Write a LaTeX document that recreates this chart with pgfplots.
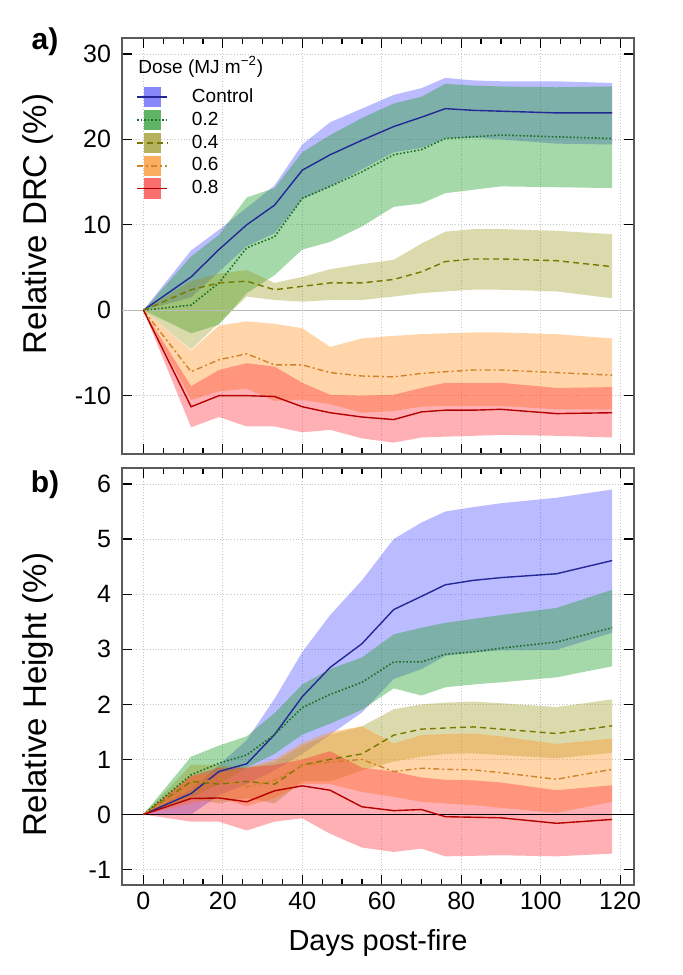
\documentclass[border=0pt]{standalone}
\usepackage{fontspec}
\setmainfont{Liberation Sans}
\usepackage{pgfplots}
\usepackage{pgfplotstable}
\pgfplotsset{compat=1.18}
\usepgfplotslibrary{fillbetween}

\definecolor{axgray}{RGB}{90,90,90}
\definecolor{cband}{RGB}{60,60,255}
\definecolor{gband}{RGB}{30,160,40}
\definecolor{oband}{RGB}{150,150,20}
\definecolor{yband}{RGB}{255,150,40}
\definecolor{rband}{RGB}{255,30,40}
\definecolor{cline}{RGB}{35,40,150}
\definecolor{gline}{RGB}{30,110,40}
\definecolor{oline}{RGB}{120,120,0}
\definecolor{yline}{RGB}{210,130,40}
\definecolor{rline}{RGB}{180,0,0}
\definecolor{cleg}{RGB}{135,135,250}
\definecolor{gleg}{RGB}{95,180,100}
\definecolor{oleg}{RGB}{180,178,95}
\definecolor{yleg}{RGB}{250,172,95}
\definecolor{rleg}{RGB}{250,110,110}

\pgfplotstableread{
x m lo hi
0 0 0 0
12 3.9 1.5 7.0
19 7.1 4.5 9.4
26 10.0 7.5 12.0
33 12.3 9.0 14.6
40 16.4 13.0 19.4
47 18.2 14.5 22.0
55 19.9 16.5 23.6
63 21.5 18.5 25.2
70 22.6 19.0 26.0
76 23.6 20.1 27.2
83 23.4 20.2 26.9
90 23.3 20.0 26.8
104 23.1 19.5 26.8
118 23.1 19.4 26.6
}\cA
\pgfplotstableread{
x m lo hi
0 0 0 0
12 0.6 -2.7 6.3
19 3.2 -1.7 8.8
26 7.3 2.0 13.2
33 8.6 4.1 14.3
40 13.1 7.1 18.5
47 14.5 8.0 20.5
55 16.2 9.8 22.5
63 18.2 12.1 24.2
70 18.8 12.5 25.0
76 20.1 13.7 26.5
83 20.3 14.1 26.3
90 20.5 14.5 26.2
104 20.3 14.4 26.1
118 20.1 14.3 26.2
}\gA
\pgfplotstableread{
x m lo hi
0 0 0 0
12 2.4 -4.6 3.4
19 3.2 -1.5 4.3
26 3.4 1.6 4.7
33 2.4 1.2 3.2
40 2.8 1.0 3.9
47 3.2 1.2 4.8
55 3.2 1.2 5.4
63 3.6 1.6 5.9
70 4.5 2.0 7.8
76 5.7 2.2 9.2
83 6.0 2.4 9.5
90 6.0 2.4 9.5
104 5.8 2.2 9.3
118 5.1 1.4 8.9
}\oA
\pgfplotstableread{
x m lo hi
0 0 0 0
12 -7.2 -10.5 -4.7
19 -5.8 -9.5 -1.8
26 -5.1 -9.2 -1.3
33 -6.4 -10.6 -1.6
40 -6.4 -10.5 -2.1
47 -7.3 -11.0 -4.3
55 -7.7 -12.0 -3.3
63 -7.8 -11.8 -3.0
70 -7.4 -11.3 -2.8
76 -7.2 -11.2 -2.7
83 -7.0 -11.2 -2.6
90 -7.0 -11.2 -2.6
104 -7.3 -11.6 -2.8
118 -7.6 -11.6 -3.3
}\yA
\pgfplotstableread{
x m lo hi
0 0 0 0
12 -11.3 -13.7 -8.9
19 -10.0 -12.5 -7.0
26 -10.0 -13.6 -6.2
33 -10.1 -13.6 -6.6
40 -11.3 -14.3 -8.5
47 -12.0 -14.0 -9.9
55 -12.5 -15.0 -10.0
63 -12.8 -15.5 -9.9
70 -11.9 -14.9 -9.1
76 -11.7 -14.8 -8.5
83 -11.7 -14.7 -8.5
90 -11.6 -14.6 -8.5
104 -12.1 -14.7 -9.1
118 -12.0 -14.9 -9.0
}\rA

\pgfplotstableread{
x m lo hi
0 0 0 0
12 0.38 0.0 0.45
19 0.78 0.35 0.9
26 0.92 0.55 1.35
33 1.45 0.8 2.1
40 2.14 1.1 2.95
47 2.67 1.45 3.62
55 3.10 1.85 4.25
63 3.72 2.46 5.0
70 3.96 2.64 5.3
76 4.17 2.88 5.5
83 4.25 2.94 5.58
90 4.30 2.98 5.65
104 4.37 2.99 5.75
118 4.61 3.30 5.9
}\cB
\pgfplotstableread{
x m lo hi
0 0 0 0
12 0.72 0.3 1.05
19 0.93 0.55 1.25
26 1.08 0.85 1.42
33 1.45 1.1 1.84
40 1.94 1.45 2.36
47 2.18 1.65 2.64
55 2.40 1.9 2.85
63 2.77 2.29 3.27
70 2.77 2.16 3.39
76 2.91 2.31 3.48
83 2.95 2.36 3.55
90 3.02 2.40 3.62
104 3.13 2.49 3.75
118 3.39 2.69 4.08
}\gB
\pgfplotstableread{
x m lo hi
0 0 0 0
12 0.6 0.3 0.9
19 0.55 0.2 0.9
26 0.6 0.3 0.85
33 0.55 0.2 0.95
40 0.9 0.6 1.25
47 1.0 0.6 1.45
55 1.1 0.8 1.6
63 1.44 0.96 1.91
70 1.55 1.05 2.0
76 1.57 1.1 2.03
83 1.59 1.11 2.05
90 1.55 1.08 2.02
104 1.47 1.02 1.95
118 1.61 1.12 2.09
}\oB
\pgfplotstableread{
x m lo hi
0 0 0 0
12 0.55 0.2 0.7
19 0.65 0.3 0.75
26 0.5 0.15 0.85
33 0.62 0.3 1.0
40 0.9 0.55 1.3
47 0.95 0.55 1.5
55 1.0 0.41 1.6
63 0.78 0.32 1.29
70 0.84 0.23 1.44
76 0.82 0.2 1.46
83 0.81 0.17 1.47
90 0.76 0.12 1.42
104 0.64 0.03 1.28
118 0.82 0.23 1.38
}\yB
\pgfplotstableread{
x m lo hi
0 0 0 0
12 0.29 -0.13 0.7
19 0.30 -0.13 0.85
26 0.23 -0.29 0.85
33 0.43 -0.13 0.9
40 0.52 -0.07 1.0
47 0.44 -0.35 1.15
55 0.14 -0.6 0.85
63 0.07 -0.68 0.78
70 0.09 -0.62 0.67
76 -0.04 -0.76 0.63
83 -0.05 -0.75 0.62
90 -0.06 -0.74 0.58
104 -0.16 -0.76 0.44
118 -0.09 -0.71 0.53
}\rB

\pgfplotsset{
  common/.style={
    scale only axis, width=256pt,
    xmin=-5.4, xmax=123.5,
    xtick={0,20,...,120}, minor x tick num=3,
    tick align=inside, major tick length=5pt, minor tick length=3pt,
    axis line style={draw=axgray, line width=0.8pt},
    tick style={draw=black, line width=0.6pt},
    grid=major, major grid style={densely dotted, draw=gray!45, line width=0.4pt},
    tick label style={font=\fontsize{12.5}{14}\selectfont},
    yticklabel style={xshift=-2pt},
    /pgf/number format/assume math mode=true,
    ylabel style={font=\fontsize{16.5}{18}\selectfont},
    xlabel style={font=\fontsize{14.5}{16}\selectfont},
  },
  bandleg/.style={legend image code/.code={%
    \fill[#1, draw=none] (0.12cm,-0.18cm) rectangle (0.42cm,0.18cm);
    \draw[##1] (0cm,0cm) -- (0.53cm,0cm);}},
  band/.style={draw=none, forget plot, fill opacity=#1},
}

\begin{document}
\begin{tikzpicture}

% ---------------- panel a ----------------
\begin{axis}[common,
  at={(61pt,260.5pt)}, anchor=south west, height=208pt,
  ymin=-16.83, ymax=31.87, ytick={-10,0,10,20,30},
  xticklabels={},
  ylabel={Relative DRC (\%)},
  ylabel style={at={(axis description cs:-0.165,0.553)}, anchor=center},
  legend style={at={(axis description cs:0.027,0.884)}, anchor=north west,
    draw=none, fill=none, inner sep=0pt, row sep=1.2pt, column sep=11pt,
    font=\fontsize{9.5}{10}\selectfont, nodes={inner sep=1pt}},
  legend cell align=left,
]
\addplot[gray!55, line width=0.5pt, forget plot] coordinates {(-10,0) (130,0)};

\addplot[draw=none, forget plot, name path=cah] table[x=x,y=hi]{\cA};
\addplot[draw=none, forget plot, name path=cal] table[x=x,y=lo]{\cA};
\addplot[fill=cband, band=0.35] fill between[of=cah and cal];
\addplot[draw=none, forget plot, name path=gah] table[x=x,y=hi]{\gA};
\addplot[draw=none, forget plot, name path=gal] table[x=x,y=lo]{\gA};
\addplot[fill=gband, band=0.4] fill between[of=gah and gal];
\addplot[draw=none, forget plot, name path=oah] table[x=x,y=hi]{\oA};
\addplot[draw=none, forget plot, name path=oal] table[x=x,y=lo]{\oA};
\addplot[fill=oband, band=0.35] fill between[of=oah and oal];
\addplot[draw=none, forget plot, name path=yah] table[x=x,y=hi]{\yA};
\addplot[draw=none, forget plot, name path=yal] table[x=x,y=lo]{\yA};
\addplot[fill=yband, band=0.4] fill between[of=yah and yal];
\addplot[draw=none, forget plot, name path=rah] table[x=x,y=hi]{\rA};
\addplot[draw=none, forget plot, name path=ral] table[x=x,y=lo]{\rA};
\addplot[fill=rband, band=0.35] fill between[of=rah and ral];

\addplot[cline, line width=0.7pt, bandleg={fill=cleg}] table[x=x,y=m]{\cA};
\addlegendentry{Control}
\addplot[gline, line width=0.8pt, densely dotted, bandleg={fill=gleg}] table[x=x,y=m]{\gA};
\addlegendentry{0.2}
\addplot[oline, line width=0.7pt, dash pattern=on 3pt off 2pt, bandleg={fill=oleg}] table[x=x,y=m]{\oA};
\addlegendentry{0.4}
\addplot[yline, line width=0.7pt, dash pattern=on 3pt off 1.5pt on 1pt off 1.5pt, bandleg={fill=yleg}] table[x=x,y=m]{\yA};
\addlegendentry{0.6}
\addplot[rline, line width=0.7pt, bandleg={fill=rleg}] table[x=x,y=m]{\rA};
\addlegendentry{0.8}
\end{axis}

% ---------------- panel b ----------------
\begin{axis}[common,
  at={(61pt,45pt)}, anchor=south west, height=208.5pt,
  ymin=-1.28, ymax=6.29, ytick={-1,0,1,2,3,4,5,6},
  xlabel={Days post-fire},
  xlabel style={at={(axis description cs:0.5,-0.139)}, anchor=center},
  ylabel={Relative Height (\%)},
  ylabel style={at={(axis description cs:-0.165,0.456)}, anchor=center},
]
\addplot[draw=none, forget plot, name path=cbh] table[x=x,y=hi]{\cB};
\addplot[draw=none, forget plot, name path=cbl] table[x=x,y=lo]{\cB};
\addplot[fill=cband, band=0.35] fill between[of=cbh and cbl];
\addplot[draw=none, forget plot, name path=gbh] table[x=x,y=hi]{\gB};
\addplot[draw=none, forget plot, name path=gbl] table[x=x,y=lo]{\gB};
\addplot[fill=gband, band=0.4] fill between[of=gbh and gbl];
\addplot[draw=none, forget plot, name path=obh] table[x=x,y=hi]{\oB};
\addplot[draw=none, forget plot, name path=obl] table[x=x,y=lo]{\oB};
\addplot[fill=oband, band=0.35] fill between[of=obh and obl];
\addplot[draw=none, forget plot, name path=ybh] table[x=x,y=hi]{\yB};
\addplot[draw=none, forget plot, name path=ybl] table[x=x,y=lo]{\yB};
\addplot[fill=yband, band=0.4] fill between[of=ybh and ybl];
\addplot[draw=none, forget plot, name path=rbh] table[x=x,y=hi]{\rB};
\addplot[draw=none, forget plot, name path=rbl] table[x=x,y=lo]{\rB};
\addplot[fill=rband, band=0.35] fill between[of=rbh and rbl];

\addplot[black, line width=0.6pt, forget plot] coordinates {(-10,0) (130,0)};

\addplot[cline, line width=0.7pt] table[x=x,y=m]{\cB};
\addplot[gline, line width=0.8pt, densely dotted] table[x=x,y=m]{\gB};
\addplot[oline, line width=0.7pt, dash pattern=on 3pt off 2pt] table[x=x,y=m]{\oB};
\addplot[yline, line width=0.7pt, dash pattern=on 3pt off 1.5pt on 1pt off 1.5pt] table[x=x,y=m]{\yB};
\addplot[rline, line width=0.7pt] table[x=x,y=m]{\rB};
\end{axis}

\node[font=\bfseries\fontsize{15}{17}\selectfont] at (22.5pt,466.5pt) {a)};
\node[font=\bfseries\fontsize{15}{17}\selectfont] at (22.5pt,245pt) {b)};
\node[anchor=west, font=\fontsize{9.5}{10}\selectfont, inner sep=0pt] at (69pt,454pt) {Dose (MJ m\textsuperscript{−2})};
\path (0,0) rectangle (341.5pt,487.5pt);
\end{tikzpicture}
\end{document}
